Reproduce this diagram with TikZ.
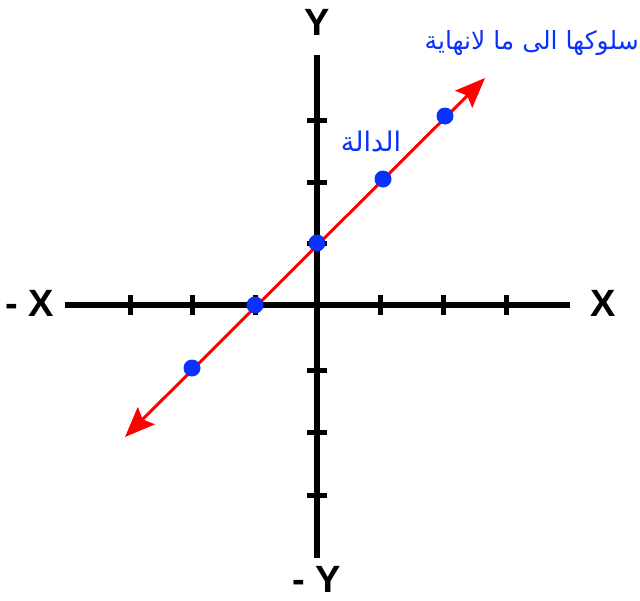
\documentclass[tikz,border=0pt]{standalone}
\usepackage{fontspec}
\setmainfont{Liberation Sans}
\newfontfamily\arabicfont[Script=Arabic]{DejaVu Sans}
\TeXXeTstate=1
\usetikzlibrary{arrows.meta}
\definecolor{ptblue}{RGB}{10,50,250}
\begin{document}
\begin{tikzpicture}[x=1pt,y=-1pt,
  axis/.style={line width=6pt},
  tick/.style={line width=5pt},
  lab/.style={font=\bfseries\fontsize{38}{38}\selectfont, inner sep=0pt},
  dot/.style={circle, fill=ptblue, inner sep=0pt, minimum size=17pt},
  fn/.style={draw=red, line width=3pt, {Stealth[length=30pt,width=24pt,inset=5pt,fill=red]}-{Stealth[length=30pt,width=24pt,inset=5pt,fill=red]}},
  arlab/.style={text=ptblue, inner sep=0pt}]
\useasboundingbox (0,0) rectangle (640,600);
% axes
\coordinate (xl) at (65,305);
\coordinate (xr) at (570,305);
\coordinate (yt) at (317,55);
\coordinate (yb) at (317,558);
\draw[axis] (xl) -- (xr);
\draw[axis] (yt) -- (yb);
% ticks
\foreach \x in {130,192,255,380,443,506}
  \draw[tick] (\x,295) -- (\x,315);
\foreach \y in {120,182,243,370,432,495}
  \draw[tick] (307,\y) -- (327,\y);
% labels
\node[lab] (Y) at (317,22) {Y};
\node[lab] (mY) at (317,579) {- Y};
\node[lab] (mX) at (30,303) {- X};
\node[lab] (X) at (603,303) {X};
% function line
\coordinate (a1) at (125,437);
\coordinate (a2) at (485,78);
\draw[fn] (a1) -- (a2);
% points
\node[dot] (p1) at (192,368) {};
\node[dot] (p2) at (255,305) {};
\node[dot] (p3) at (317,243) {};
\node[dot] (p4) at (383,179) {};
\node[dot] (p5) at (445,116) {};
% arabic labels
\node[arlab, font=\arabicfont\fontsize{27}{27}\selectfont] (dala) at (371,141) {\beginR الدالة\endR};
\node[arlab, anchor=east, font=\arabicfont\fontsize{25}{25}\selectfont] (beh) at (639,43) {\beginR سلوكها الى ما لانهاية\endR};
\end{tikzpicture}
\end{document}
